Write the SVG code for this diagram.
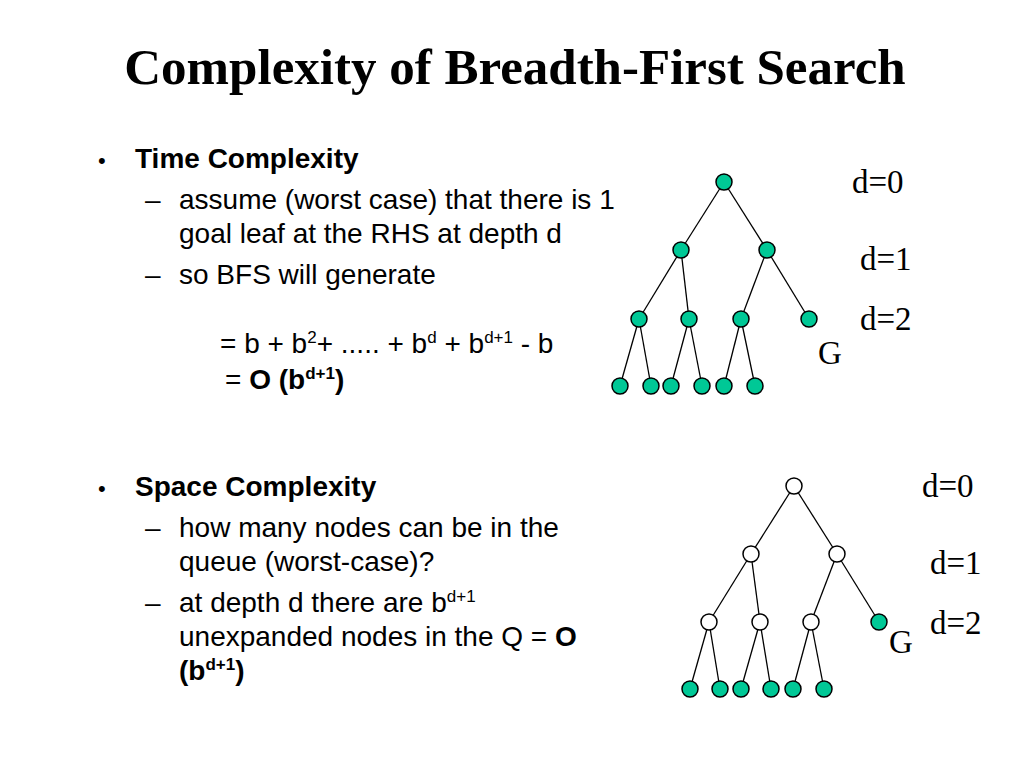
<svg xmlns="http://www.w3.org/2000/svg" width="1024" height="768" viewBox="0 0 1024 768">
<style>
.t{font-family:"Liberation Sans",Arial,sans-serif;font-size:28px;fill:#000}
.s{font-family:"Liberation Serif","Times New Roman",serif;font-size:33px;fill:#000}
.g{fill:#00c896;stroke:#000;stroke-width:1.5}
.w{fill:#fff;stroke:#000;stroke-width:1.5}
.e line{stroke:#000;stroke-width:1.3}
</style>
<rect width="1024" height="768" fill="#fff"/>
<text x="515" y="84" text-anchor="middle" style="font-family:'Liberation Serif',serif;font-size:51px;font-weight:bold">Complexity of Breadth-First Search</text>
<g class="t">
<text x="98" y="168" font-size="22">•</text><text x="135" y="168" font-weight="bold">Time Complexity</text>
<text x="145" y="209">–</text><text x="179" y="209">assume (worst case) that there is 1</text>
<text x="179" y="243">goal leaf at the RHS at depth d</text>
<text x="145" y="284">–</text><text x="179" y="284">so BFS will generate</text>
<text x="220" y="353">= b + b<tspan font-size="17" dy="-10">2</tspan><tspan dy="10">+  ..... + b</tspan><tspan font-size="17" dy="-10">d</tspan><tspan dy="10"> + b</tspan><tspan font-size="17" dy="-10">d+1</tspan><tspan dy="10"> - b</tspan></text>
<text x="225" y="389">= <tspan font-weight="bold">O (b</tspan><tspan font-size="17" font-weight="bold" dy="-10">d+1</tspan><tspan font-weight="bold" dy="10">)</tspan></text>
<text x="98" y="496" font-size="22">•</text><text x="135" y="496" font-weight="bold">Space Complexity</text>
<text x="145" y="537">–</text><text x="179" y="537">how many nodes can be in the</text>
<text x="179" y="571">queue (worst-case)?</text>
<text x="145" y="612">–</text><text x="179" y="612">at depth d there are b<tspan font-size="17" dy="-10">d+1</tspan></text>
<text x="179" y="646">unexpanded nodes in the Q  = <tspan font-weight="bold">O</tspan></text>
<text x="179" y="680" font-weight="bold">(b<tspan font-size="17" dy="-10">d+1</tspan><tspan dy="10">)</tspan></text>
</g>
<g class="s">
<text x="852" y="193">d=0</text><text x="860" y="270">d=1</text><text x="860" y="330">d=2</text><text x="818" y="364">G</text>
<text x="922" y="497">d=0</text><text x="930" y="574">d=1</text><text x="930" y="634">d=2</text><text x="889" y="653">G</text>
</g>
<g id="connectors" class="e">
<line x1="724" y1="182" x2="681" y2="250"/><line x1="724" y1="182" x2="767" y2="250"/>
<line x1="681" y1="250" x2="639" y2="319"/><line x1="681" y1="250" x2="689" y2="319"/>
<line x1="767" y1="250" x2="741" y2="319"/><line x1="767" y1="250" x2="809" y2="319"/>
<line x1="639" y1="319" x2="620" y2="386"/><line x1="639" y1="319" x2="651" y2="386"/>
<line x1="689" y1="319" x2="671" y2="386"/><line x1="689" y1="319" x2="702" y2="386"/>
<line x1="741" y1="319" x2="724" y2="386"/><line x1="741" y1="319" x2="755" y2="386"/>
<line x1="794" y1="486" x2="751" y2="554"/><line x1="794" y1="486" x2="837" y2="554"/>
<line x1="751" y1="554" x2="709" y2="622"/><line x1="751" y1="554" x2="760" y2="622"/>
<line x1="837" y1="554" x2="811" y2="622"/><line x1="837" y1="554" x2="879" y2="622"/>
<line x1="709" y1="622" x2="690" y2="689"/><line x1="709" y1="622" x2="720" y2="689"/>
<line x1="760" y1="622" x2="741" y2="689"/><line x1="760" y1="622" x2="771" y2="689"/>
<line x1="811" y1="622" x2="793" y2="689"/><line x1="811" y1="622" x2="824" y2="689"/>
</g>
<g id="tree1">
<circle id="a0" class="g" cx="724" cy="182" r="8"/>
<circle id="a1" class="g" cx="681" cy="250" r="8"/><circle id="a2" class="g" cx="767" cy="250" r="8"/>
<circle id="a3" class="g" cx="639" cy="319" r="8"/><circle id="a4" class="g" cx="689" cy="319" r="8"/>
<circle id="a5" class="g" cx="741" cy="319" r="8"/><circle id="a6" class="g" cx="809" cy="319" r="8"/>
<circle id="a7" class="g" cx="620" cy="386" r="8"/><circle id="a8" class="g" cx="651" cy="386" r="8"/>
<circle id="a9" class="g" cx="671" cy="386" r="8"/><circle id="a10" class="g" cx="702" cy="386" r="8"/>
<circle id="a11" class="g" cx="724" cy="386" r="8"/><circle id="a12" class="g" cx="755" cy="386" r="8"/>
</g>
<g id="tree2">
<circle id="b0" class="w" cx="794" cy="486" r="8"/>
<circle id="b1" class="w" cx="751" cy="554" r="8"/><circle id="b2" class="w" cx="837" cy="554" r="8"/>
<circle id="b3" class="w" cx="709" cy="622" r="8"/><circle id="b4" class="w" cx="760" cy="622" r="8"/>
<circle id="b5" class="w" cx="811" cy="622" r="8"/><circle id="b6" class="g" cx="879" cy="622" r="8"/>
<circle id="b7" class="g" cx="690" cy="689" r="8"/><circle id="b8" class="g" cx="720" cy="689" r="8"/>
<circle id="b9" class="g" cx="741" cy="689" r="8"/><circle id="b10" class="g" cx="771" cy="689" r="8"/>
<circle id="b11" class="g" cx="793" cy="689" r="8"/><circle id="b12" class="g" cx="824" cy="689" r="8"/>
</g>
</svg>
